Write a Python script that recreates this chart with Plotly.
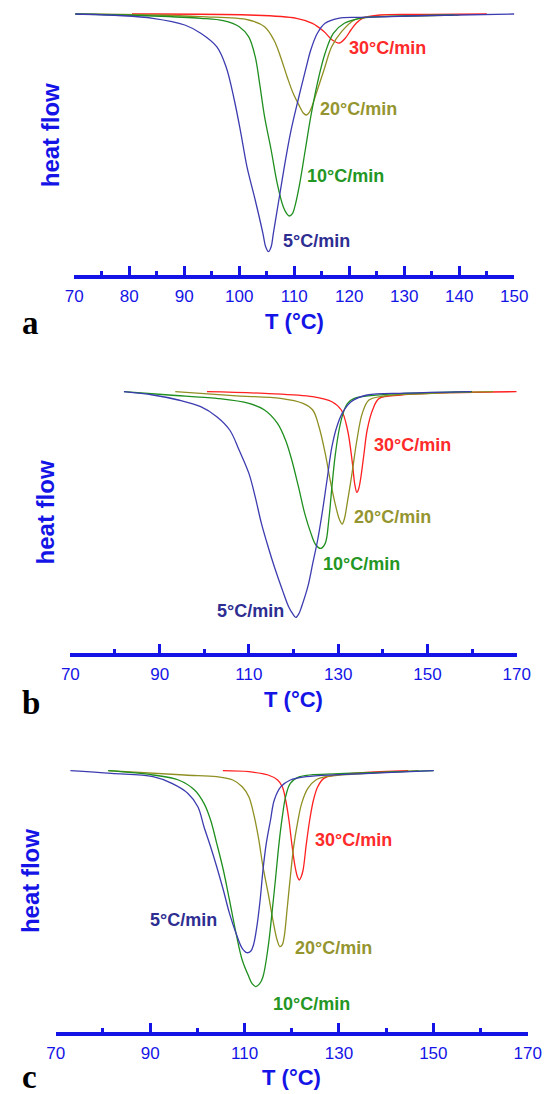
import plotly.graph_objects as go

W, H = 559, 1094

# ---------------- panel (a): 70-150 °C ----------------
a_T_5 = [70.2, 78.0, 84.3, 90.1, 93.0, 95.9, 97.6, 99.1, 100.3, 101.4, 102.9, 104.3, 104.8, 105.3, 105.8,
         106.2, 107.2, 108.2, 109.3, 110.7, 112.2, 113.0, 114.2, 115.6, 118.0, 122.0, 135.0, 150.0]
a_hf_5 = [0.0, -0.015, -0.043, -0.11, -0.193, -0.327, -0.527, -0.86, -1.193, -1.527, -1.86, -2.193, -2.327, -2.377, -2.327,
          -2.193, -1.86, -1.527, -1.193, -0.86, -0.527, -0.36, -0.193, -0.093, -0.043, -0.033, -0.015, 0.0]

a_T_10 = [70.2, 84.3, 93.0, 97.1, 100.0, 101.7, 102.9, 103.7, 104.6, 105.8, 106.9, 108.0, 108.6, 109.1, 109.7,
          110.1, 111.0, 112.0, 113.0, 114.2, 115.6, 117.1, 119.1, 122.0, 130.0, 139.0]
a_hf_10 = [0.0, -0.02, -0.043, -0.067, -0.127, -0.227, -0.427, -0.693, -1.027, -1.36, -1.693, -1.927, -1.993, -2.02, -1.993,
           -1.927, -1.693, -1.36, -1.027, -0.693, -0.393, -0.193, -0.093, -0.043, -0.02, -0.01]

a_T_20 = [70.2, 84.3, 93.0, 101.7, 104.6, 106.3, 107.5, 108.7, 109.8, 111.0, 111.6, 112.2, 112.7, 113.2, 114.2,
          115.4, 116.8, 118.6, 120.9, 122.6, 130.0, 140.0]
a_hf_20 = [0.0, -0.01, -0.027, -0.06, -0.127, -0.26, -0.427, -0.627, -0.793, -0.927, -0.987, -1.01, -0.987, -0.927, -0.76,
           -0.56, -0.327, -0.177, -0.06, -0.033, -0.02, -0.01]

a_T_30 = [80.5, 101.7, 110.4, 113.3, 115.4, 116.9, 118.2, 119.3, 120.3, 121.3, 122.4, 125.6, 135.0, 145.0]
a_hf_30 = [0.0, -0.01, -0.043, -0.093, -0.175, -0.26, -0.29, -0.24, -0.16, -0.09, -0.043, -0.01, -0.005, 0.0]

# ---------------- panel (b): 70-170 °C ----------------
b_T_5 = [82.0, 88.5, 94.2, 99.2, 102.8, 105.7, 107.8, 110.0, 111.4, 112.8, 114.3, 115.7, 117.5, 118.9, 119.8, 120.5,
         121.2, 121.8, 123.2, 124.3, 125.4, 126.4, 127.5, 128.6, 129.7, 131.1, 132.9, 136.5, 145.0, 159.8]
b_hf_5 = [0.0, -0.033, -0.083, -0.15, -0.25, -0.383, -0.583, -0.817, -1.05, -1.317, -1.55, -1.75, -1.983, -2.15, -2.22, -2.257,
          -2.22, -2.15, -1.95, -1.717, -1.483, -1.217, -0.883, -0.55, -0.35, -0.2, -0.1, -0.033, -0.015, 0.0]

b_T_10 = [82.0, 92.1, 102.8, 110.0, 113.5, 116.4, 118.2, 119.6, 121.1, 122.5, 123.9, 125.0, 126.1,
          127.1, 127.9, 128.6, 129.3, 130.2, 131.1, 132.1, 133.6, 140.0, 160.0]
b_hf_10 = [0.0, -0.033, -0.067, -0.117, -0.183, -0.317, -0.483, -0.683, -0.95, -1.217, -1.417, -1.533, -1.567,
           -1.517, -1.283, -0.95, -0.65, -0.383, -0.217, -0.117, -0.067, -0.03, 0.0]

b_T_20 = [93.5, 106.4, 117.1, 122.1, 124.3, 125.7, 127.1, 128.2, 129.3, 130.3, 130.9, 131.4, 131.9, 133.1, 134.2,
          135.4, 136.9, 140.4, 150.0, 164.7]
b_hf_20 = [0.0, -0.04, -0.067, -0.117, -0.183, -0.35, -0.617, -0.883, -1.117, -1.28, -1.323, -1.27, -1.15, -0.817, -0.483,
           -0.217, -0.083, -0.043, -0.02, 0.0]

b_T_30 = [100.6, 113.5, 124.3, 128.6, 130.7, 132.1, 133.2, 133.7, 134.2, 134.6, 135.0, 135.7, 136.5, 137.7, 139.2,
          144.1, 155.0, 170.0]
b_hf_30 = [0.0, -0.017, -0.05, -0.1, -0.183, -0.383, -0.72, -0.92, -1.007, -0.97, -0.88, -0.65, -0.383, -0.183, -0.067,
           -0.033, -0.01, 0.0]

# ---------------- panel (c): 70-170 °C ----------------
c_T_5 = [73.1, 81.8, 90.6, 94.6, 98.0, 100.1, 101.4, 102.8, 104.1, 105.5, 106.8, 108.2, 109.5, 110.5, 111.3,
         111.9, 112.6, 113.3, 113.9, 114.6, 115.5, 116.3, 117.7, 119.7, 123.1, 130.0, 140.0, 150.1]
c_hf_5 = [0.0, -0.027, -0.06, -0.127, -0.227, -0.36, -0.56, -0.76, -0.96, -1.193, -1.427, -1.627, -1.777, -1.82, -1.805,
          -1.74, -1.56, -1.293, -0.993, -0.727, -0.493, -0.293, -0.16, -0.093, -0.06, -0.04, -0.02, 0.0]

c_T_10 = [81.1, 90.6, 96.0, 99.4, 101.4, 102.8, 104.1, 105.5, 106.8, 108.2, 109.5, 110.9, 111.6, 112.4, 113.2,
          113.9, 115.0, 115.8, 116.6, 117.3, 118.0, 118.7, 119.7, 121.7, 130.0, 140.0, 150.0]
c_hf_10 = [0.0, -0.043, -0.093, -0.193, -0.327, -0.493, -0.727, -0.993, -1.293, -1.627, -1.893, -2.06, -2.13, -2.16, -2.13,
           -2.06, -1.76, -1.427, -1.06, -0.727, -0.46, -0.26, -0.127, -0.06, -0.03, -0.015, 0.0]

c_T_20 = [81.1, 97.3, 104.1, 107.5, 109.5, 110.9, 111.9, 112.9, 113.9, 115.0, 116.0, 116.9, 117.5,
          118.0, 118.4, 119.0, 119.7, 120.4, 121.2, 122.1, 123.4, 125.1, 127.2, 135.0, 146.9]
c_hf_20 = [0.0, -0.043, -0.06, -0.093, -0.16, -0.26, -0.427, -0.66, -0.96, -1.227, -1.493, -1.693, -1.76,
           -1.74, -1.66, -1.393, -1.06, -0.76, -0.527, -0.327, -0.177, -0.093, -0.06, -0.03, 0.0]

c_T_30 = [105.4, 110.9, 115.0, 117.0, 118.0, 118.7, 119.4, 120.0, 120.7, 121.2, 121.6, 122.0, 122.4, 123.1, 123.8,
          124.6, 125.5, 126.8, 129.2, 135.0, 144.7]
c_hf_30 = [0.0, -0.01, -0.043, -0.093, -0.16, -0.293, -0.493, -0.727, -0.96, -1.06, -1.093, -1.06, -0.993, -0.727, -0.493,
           -0.293, -0.16, -0.077, -0.043, -0.02, 0.0]

rate_labels = ["5°C/min", "10°C/min", "20°C/min", "30°C/min"]
line_colors = ["#3c3cb0", "#1f8f1f", "#8f8f23", "#ff2020"]
text_colors = ["#2e2e92", "#239623", "#959530", "#ff2a2a"]

# label anchor positions (T, heat flow) for each rate, per panel
a_lab_T = [114.1, 119.3, 121.6, 127.0]
a_lab_hf = [-2.27, -1.62, -0.95, -0.34]
b_lab_T = [110.4, 135.3, 142.2, 146.7]
b_lab_hf = [-2.19, -1.72, -1.25, -0.53]
c_lab_T = [97.1, 124.1, 128.8, 133.0]
c_lab_hf = [-1.49, -2.33, -1.77, -0.69]

panels = [
    dict(T=[a_T_5, a_T_10, a_T_20, a_T_30], hf=[a_hf_5, a_hf_10, a_hf_20, a_hf_30],
         lab_T=a_lab_T, lab_hf=a_lab_hf, xr=[70, 150], dtick=10, minor=5,
         xdom=(68, 527), ydom=(0, 275), yr=[-2.61, 0.14], letter="a", letter_y=336,
         hf_x=43, hf_y=135),
    dict(T=[b_T_5, b_T_10, b_T_20, b_T_30], hf=[b_hf_5, b_hf_10, b_hf_20, b_hf_30],
         lab_T=b_lab_T, lab_hf=b_lab_hf, xr=[70, 170], dtick=20, minor=10,
         xdom=(64, 529.5), ydom=(370, 653), yr=[-2.613, 0.217], letter="b", letter_y=716,
         hf_x=38, hf_y=512),
    dict(T=[c_T_5, c_T_10, c_T_20, c_T_30], hf=[c_hf_5, c_hf_10, c_hf_20, c_hf_30],
         lab_T=c_lab_T, lab_hf=c_lab_hf, xr=[70, 170], dtick=20, minor=10,
         xdom=(48.8, 541), ydom=(750, 1031.7), yr=[-2.61, 0.207], letter="c", letter_y=1090,
         hf_x=22, hf_y=881),
]

AXIS_BLUE = "#1414e6"
SANS = "Liberation Sans, Arial, sans-serif"


def fx(x):
    return x / W


def fy(y):
    return 1 - y / H


fig = go.Figure()
annotations = []

for i, p in enumerate(panels):
    n = "" if i == 0 else str(i + 1)
    xa, ya = "x" + n, "y" + n
    # draw the slowest rate last so it sits on top
    for k in [3, 2, 1, 0]:
        fig.add_trace(go.Scatter(
            x=p["T"][k], y=p["hf"][k], mode="lines",
            line=dict(color=line_colors[k], width=1.3, shape="spline", smoothing=1.0),
            xaxis=xa, yaxis=ya, showlegend=False, hoverinfo="skip"))
        annotations.append(dict(
            x=p["lab_T"][k], y=p["lab_hf"][k], xref=xa, yref=ya,
            text="<b>%s</b>" % rate_labels[k], showarrow=False,
            font=dict(family=SANS, size=18, color=text_colors[k]),
            xanchor="center", yanchor="middle"))

    fig.update_layout(**{
        "xaxis" + n: dict(
            domain=[fx(p["xdom"][0]), fx(p["xdom"][1])], range=p["xr"], anchor=ya,
            showline=True, linecolor=AXIS_BLUE, linewidth=3.5, mirror=False,
            ticks="inside", ticklen=9, tickwidth=3, tickcolor=AXIS_BLUE,
            tick0=p["xr"][0], dtick=p["dtick"],
            minor=dict(ticks="inside", ticklen=4, tickwidth=3, tickcolor=AXIS_BLUE,
                       dtick=p["minor"], tick0=p["xr"][0], showgrid=False),
            tickfont=dict(family=SANS, size=17, color=AXIS_BLUE),
            ticklabelstandoff=3,
            showgrid=False, zeroline=False, fixedrange=True),
        "yaxis" + n: dict(
            domain=[fy(p["ydom"][1]), fy(p["ydom"][0])], range=p["yr"], anchor=xa,
            visible=False, showgrid=False, zeroline=False),
    })

    xc = (p["xdom"][0] + p["xdom"][1]) / 2
    axis_y = p["ydom"][1]
    annotations.append(dict(
        x=fx(xc), y=fy(axis_y + 46), xref="paper", yref="paper",
        text="<b>T (°C)</b>", showarrow=False,
        font=dict(family=SANS, size=22, color=AXIS_BLUE),
        xanchor="center", yanchor="middle"))
    annotations.append(dict(
        x=fx(p["hf_x"]), y=fy(p["hf_y"]), xref="paper", yref="paper",
        text="<b>heat flow</b>", textangle=-90, showarrow=False,
        font=dict(family=SANS, size=24, color=AXIS_BLUE),
        xanchor="center", yanchor="middle"))
    annotations.append(dict(
        x=fx(11), y=fy(p["letter_y"]), xref="paper", yref="paper",
        text="<b>%s</b>" % p["letter"], showarrow=False,
        font=dict(family="Liberation Serif, Times New Roman, serif", size=33, color="#000000"),
        xanchor="left", yanchor="bottom", yshift=-7))

fig.update_layout(
    width=W, height=H,
    margin=dict(l=0, r=0, t=0, b=0),
    paper_bgcolor="#ffffff", plot_bgcolor="#ffffff",
    annotations=annotations,
)

fig.write_html("out.html")
